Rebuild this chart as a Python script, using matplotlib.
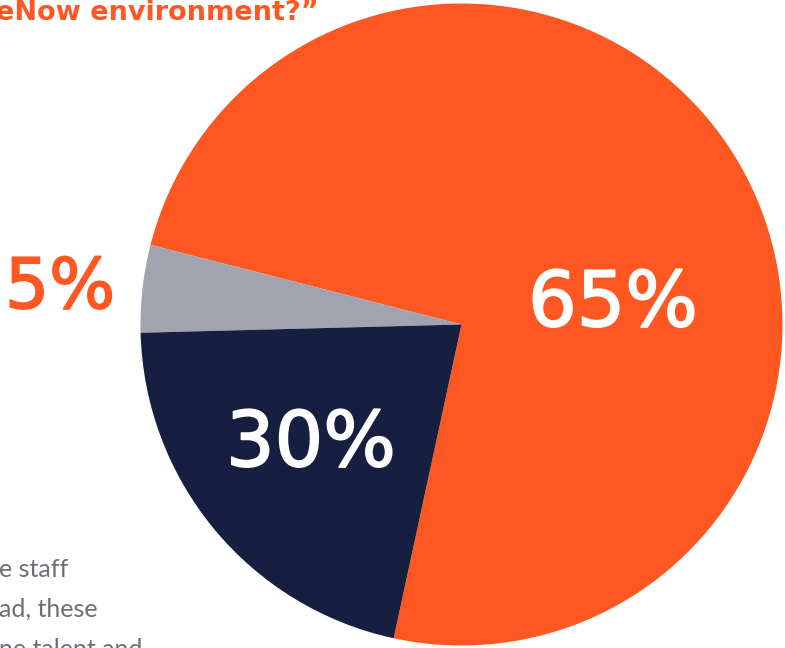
import matplotlib
matplotlib.use("Agg")
import matplotlib.pyplot as plt
import matplotlib.patheffects as pe

# slice shares as drawn in the picture (orange, grey, navy) and the printed labels
shares = [74.4, 4.4, 21.2]
colors = ["#FF5722", "#A1A4AF", "#161F3F"]
labels = ["65%", "5%", "30%"]
title_text = "eNow environment?\u201d"
body_lines = ["e staff", "ad, these", "ne talent and"]

W, H = 785, 648
fig = plt.figure(figsize=(W / 100, H / 100), dpi=100)
ax = fig.add_axes([0, 0, 1, 1])

ax.pie(shares, colors=colors, startangle=257.8, counterclock=True,
       center=(461.5, H - 324.5), radius=321,
       wedgeprops=dict(linewidth=0))
ax.set_xlim(0, W)
ax.set_ylim(0, H)
ax.set_aspect("equal")
ax.axis("off")

def thick(c):
    # book weight plus a thin outline gives the medium look of the original
    return [pe.withStroke(linewidth=1.3, foreground=c)]

big = dict(family="DejaVu Sans", fontsize=55, ha="center", va="baseline")
ax.text(613, H - 326, labels[0], color="white", path_effects=thick("white"), **big)
ax.text(311, H - 466, labels[2], color="white", path_effects=thick("white"), **big)
ax.text(5, H - 308, labels[1], color=colors[0], ha="left", va="baseline",
        family="DejaVu Sans", fontsize=50, path_effects=thick(colors[0]))

ax.text(-4, H - 20, title_text, color=colors[0], ha="left", va="baseline",
        family="DejaVu Sans", weight="bold", fontsize=19.5)

for i, line in enumerate(body_lines):
    ax.text(-1, H - (577 + 40 * i), line, color="#6E6E78", ha="left",
            va="baseline", family="Lato", fontsize=18)

fig.savefig("out.png", dpi=100)
